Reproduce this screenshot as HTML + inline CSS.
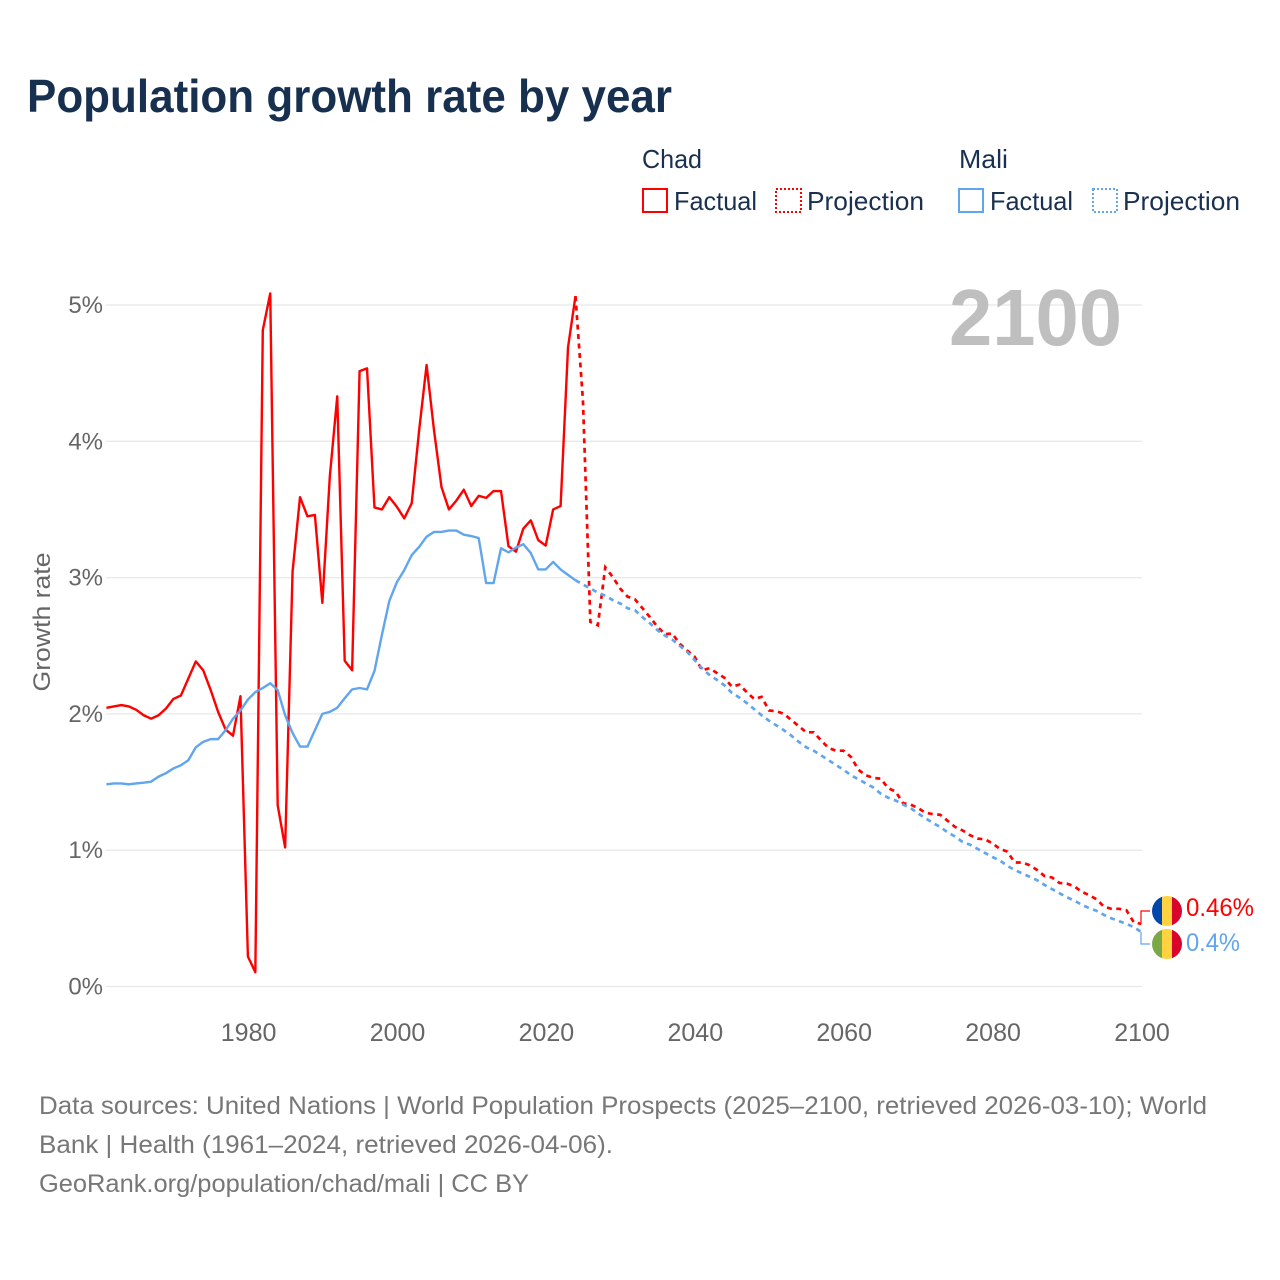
<!DOCTYPE html>
<html lang="en">
<head>
<meta charset="utf-8">
<title>Population growth rate by year</title>
<style>
html,body{margin:0;padding:0;background:#fff;width:1280px;height:1280px;overflow:hidden}
svg{display:block;font-family:"Liberation Sans",sans-serif}
</style>
</head>
<body>
<svg id="chart" width="1280" height="1280" viewBox="0 0 1280 1280" xmlns="http://www.w3.org/2000/svg">
  <defs>
    <clipPath id="clip-chad"><circle cx="1167" cy="911" r="15"/></clipPath>
    <clipPath id="clip-mali"><circle cx="1167" cy="944" r="15"/></clipPath>
  </defs>
  <rect width="1280" height="1280" fill="#fff"/>
  <text x="27" y="112" font-size="46" font-weight="700" fill="#17304f" textLength="645" lengthAdjust="spacingAndGlyphs">Population growth rate by year</text>

  <g font-size="26" fill="#1a3050">
    <text x="642" y="168" textLength="60" lengthAdjust="spacingAndGlyphs">Chad</text>
    <rect x="643" y="189" width="24" height="23" fill="none" stroke="#ff0000" stroke-width="2"/>
    <text x="674" y="210" textLength="83" lengthAdjust="spacingAndGlyphs">Factual</text>
    <rect x="776" y="189" width="25" height="23" fill="none" stroke="#ff0000" stroke-width="2" stroke-dasharray="2 2"/>
    <text x="807" y="210" textLength="117" lengthAdjust="spacingAndGlyphs">Projection</text>
    <text x="959" y="168" textLength="49" lengthAdjust="spacingAndGlyphs">Mali</text>
    <rect x="959" y="189" width="24" height="23" fill="none" stroke="#60a5ed" stroke-width="2"/>
    <text x="990" y="210" textLength="83" lengthAdjust="spacingAndGlyphs">Factual</text>
    <rect x="1093" y="189" width="24" height="23" fill="none" stroke="#60a5ed" stroke-width="2" stroke-dasharray="2 2"/>
    <text x="1123" y="210" textLength="117" lengthAdjust="spacingAndGlyphs">Projection</text>
  </g>

  <g id="grid"></g>
  <g id="yticks"></g>
  <g id="xticks"></g>
  <text transform="translate(50,622) rotate(-90)" text-anchor="middle" font-size="24" fill="#666" textLength="139" lengthAdjust="spacingAndGlyphs">Growth rate</text>
  <text x="949" y="345" font-size="80" font-weight="700" fill="#bfbfbf" textLength="173" lengthAdjust="spacingAndGlyphs">2100</text>

  <g id="series"></g>

  <g clip-path="url(#clip-chad)">
    <rect x="1152" y="896" width="10" height="30" fill="#0047ab"/>
    <rect x="1162" y="896" width="10" height="30" fill="#ffd23f"/>
    <rect x="1172" y="896" width="10" height="30" fill="#d9042b"/>
  </g>
  <g clip-path="url(#clip-mali)">
    <rect x="1152" y="929" width="10" height="30" fill="#79a845"/>
    <rect x="1162" y="929" width="10" height="30" fill="#ffd23f"/>
    <rect x="1172" y="929" width="10" height="30" fill="#d9042b"/>
  </g>
  <text id="label-chad" x="1186" y="916" font-size="25" fill="#ff0000" textLength="68" lengthAdjust="spacingAndGlyphs"></text>
  <text id="label-mali" x="1186" y="951" font-size="25" fill="#60a5ed" textLength="54" lengthAdjust="spacingAndGlyphs"></text>

  <g font-size="25" fill="#777">
    <text x="39" y="1114" textLength="1168" lengthAdjust="spacingAndGlyphs">Data sources: United Nations | World Population Prospects (2025–2100, retrieved 2026-03-10); World</text>
    <text x="39" y="1153" textLength="574" lengthAdjust="spacingAndGlyphs">Bank | Health (1961–2024, retrieved 2026-04-06).</text>
    <text x="39" y="1192" textLength="490" lengthAdjust="spacingAndGlyphs">GeoRank.org/population/chad/mali | CC BY</text>
  </g>
</svg>
<script>
const xTickYears = [1980, 2000, 2020, 2040, 2060, 2080, 2100];
const yTickValues = [0, 1, 2, 3, 4, 5];
const factualStartYear = 1961;
const projectionStartYear = 2024;
const chadEndLabel = "0.46%";
const maliEndLabel = "0.4%";

const chadFactual = [
  2.045,2.055,2.065,2.055,2.03,1.99,1.965,1.99,2.04,2.11,
  2.135,2.26,2.385,2.32,2.175,2.015,1.885,1.84,2.13,0.22,
  0.105,4.815,5.085,1.33,1.02,3.045,3.59,3.45,3.46,2.815,
  3.74,4.33,2.39,2.32,4.515,4.535,3.515,3.50,3.59,3.52,
  3.435,3.545,4.08,4.56,4.08,3.665,3.50,3.565,3.645,3.525,
  3.60,3.585,3.635,3.635,3.23,3.19,3.36,3.42,3.275,3.235,
  3.50,3.525,4.69,5.065
];
const chadProjection = [
  5.065,4.3,2.675,2.65,3.075,3.005,2.92,2.86,2.84,2.775,2.71,
  2.64,2.585,2.59,2.515,2.465,2.42,2.32,2.335,2.30,2.265,
  2.20,2.215,2.16,2.11,2.125,2.025,2.02,2.0,1.955,1.91,
  1.865,1.865,1.805,1.75,1.73,1.73,1.685,1.59,1.55,1.53,
  1.525,1.455,1.43,1.345,1.335,1.31,1.275,1.265,1.26,1.215,
  1.17,1.145,1.11,1.085,1.08,1.05,1.01,0.99,0.91,0.91,
  0.89,0.855,0.81,0.80,0.76,0.755,0.735,0.695,0.67,0.64,
  0.585,0.57,0.57,0.56,0.47,0.46
];
const maliFactual = [
  1.483,1.49,1.49,1.483,1.49,1.495,1.503,1.54,1.565,1.60,
  1.623,1.66,1.755,1.795,1.815,1.815,1.88,1.965,2.025,2.105,
  2.16,2.19,2.225,2.175,1.99,1.86,1.76,1.76,1.88,2.0,
  2.015,2.045,2.115,2.18,2.19,2.18,2.315,2.58,2.83,2.965,
  3.055,3.165,3.225,3.30,3.335,3.335,3.345,3.345,3.315,3.305,
  3.29,2.96,2.96,3.215,3.185,3.22,3.245,3.18,3.06,3.06,
  3.115,3.06,3.02,2.98
];
const maliProjection = [
  2.98,2.95,2.92,2.89,2.867,2.835,2.81,2.775,2.76,2.71,2.665,
  2.615,2.575,2.545,2.50,2.455,2.395,2.335,2.285,2.25,2.21,
  2.155,2.12,2.08,2.035,1.99,1.95,1.915,1.88,1.84,1.795,
  1.755,1.73,1.695,1.66,1.625,1.59,1.55,1.52,1.49,1.46,
  1.415,1.385,1.365,1.335,1.31,1.27,1.235,1.20,1.17,1.13,
  1.10,1.06,1.04,1.01,0.98,0.95,0.925,0.885,0.855,0.83,
  0.805,0.78,0.745,0.715,0.685,0.655,0.63,0.60,0.575,0.555,
  0.525,0.50,0.48,0.46,0.435,0.40
];

const SVG_NS = "http://www.w3.org/2000/svg";
const RED = "#ff0000";
const BLUE = "#60a5ed";

function xScale(year) {
  return 247.9 + (year - 1980) * 7.445;
}
function yScale(pct) {
  return 986.5 - pct * 136.3;
}
function linePath(values, startYear) {
  return values.map(function (v, i) {
    return (i ? "L" : "M") + xScale(startYear + i).toFixed(2) + " " + yScale(v).toFixed(2);
  }).join(" ");
}

const gridGroup = document.getElementById("grid");
const yTickGroup = document.getElementById("yticks");
const xTickGroup = document.getElementById("xticks");
const seriesGroup = document.getElementById("series");

yTickValues.forEach(function (v) {
  const line = document.createElementNS(SVG_NS, "line");
  
  
  line.setAttribute("x1", 106);
  line.setAttribute("x2", 1142);
  line.setAttribute("y1", yScale(v));
  line.setAttribute("y2", yScale(v));
  line.setAttribute("stroke", "#e8e8e8");
  line.setAttribute("stroke-width", "1.3");
  gridGroup.appendChild(line);

  const label = document.createElementNS(SVG_NS, "text");
  
  
  label.setAttribute("x", 103);
  label.setAttribute("y", yScale(v) + 8);
  label.setAttribute("text-anchor", "end");
  label.setAttribute("font-size", "24");
  label.setAttribute("fill", "#666");
  label.textContent = v + "%";
  yTickGroup.appendChild(label);
});

xTickYears.forEach(function (year) {
  const label = document.createElementNS(SVG_NS, "text");
  
  
  label.setAttribute("x", xScale(year) + 0.7);
  label.setAttribute("y", 1041);
  label.setAttribute("text-anchor", "middle");
  label.setAttribute("font-size", "25");
  label.setAttribute("fill", "#666");
  label.textContent = year;
  xTickGroup.appendChild(label);
});

function addMaliFactual() {
  const p = document.createElementNS(SVG_NS, "path");
  
  
  p.setAttribute("d", linePath(maliFactual, factualStartYear));
  p.setAttribute("fill", "none");
  p.setAttribute("stroke", BLUE);
  p.setAttribute("stroke-width", "2.4");
  p.setAttribute("stroke-linejoin", "round");
  seriesGroup.appendChild(p);
}
function addChadFactual() {
  const p = document.createElementNS(SVG_NS, "path");
  
  
  p.setAttribute("d", linePath(chadFactual, factualStartYear));
  p.setAttribute("fill", "none");
  p.setAttribute("stroke", RED);
  p.setAttribute("stroke-width", "2.4");
  p.setAttribute("stroke-linejoin", "round");
  seriesGroup.appendChild(p);
}
function addChadProjection() {
  const p = document.createElementNS(SVG_NS, "path");
  
  
  p.setAttribute("d", linePath(chadProjection, projectionStartYear));
  p.setAttribute("fill", "none");
  p.setAttribute("stroke", RED);
  p.setAttribute("stroke-width", "2.7");
  p.setAttribute("stroke-dasharray", "5 4.5");
  seriesGroup.appendChild(p);
}
function addMaliProjection() {
  const p = document.createElementNS(SVG_NS, "path");
  
  
  p.setAttribute("d", linePath(maliProjection, projectionStartYear));
  p.setAttribute("fill", "none");
  p.setAttribute("stroke", BLUE);
  p.setAttribute("stroke-width", "2.7");
  p.setAttribute("stroke-dasharray", "5 4.5");
  seriesGroup.appendChild(p);
}
addChadFactual();
addMaliFactual();
addChadProjection();
addMaliProjection();

const chadEnd = yScale(chadProjection[chadProjection.length - 1]);
const maliEnd = yScale(maliProjection[maliProjection.length - 1]);

const chadConnector = document.createElementNS(SVG_NS, "polyline");


chadConnector.setAttribute("points", "1141," + chadEnd + " 1141,911 1150,911");
chadConnector.setAttribute("fill", "none");
chadConnector.setAttribute("stroke", RED);
chadConnector.setAttribute("stroke-width", "1.2");
seriesGroup.appendChild(chadConnector);

const maliConnector = document.createElementNS(SVG_NS, "polyline");


maliConnector.setAttribute("points", "1141," + maliEnd + " 1141,944 1150,944");
maliConnector.setAttribute("fill", "none");
maliConnector.setAttribute("stroke", BLUE);
maliConnector.setAttribute("stroke-width", "1.2");
seriesGroup.appendChild(maliConnector);

document.getElementById("label-chad").textContent = chadEndLabel;
document.getElementById("label-mali").textContent = maliEndLabel;
</script>
</body>
</html>
